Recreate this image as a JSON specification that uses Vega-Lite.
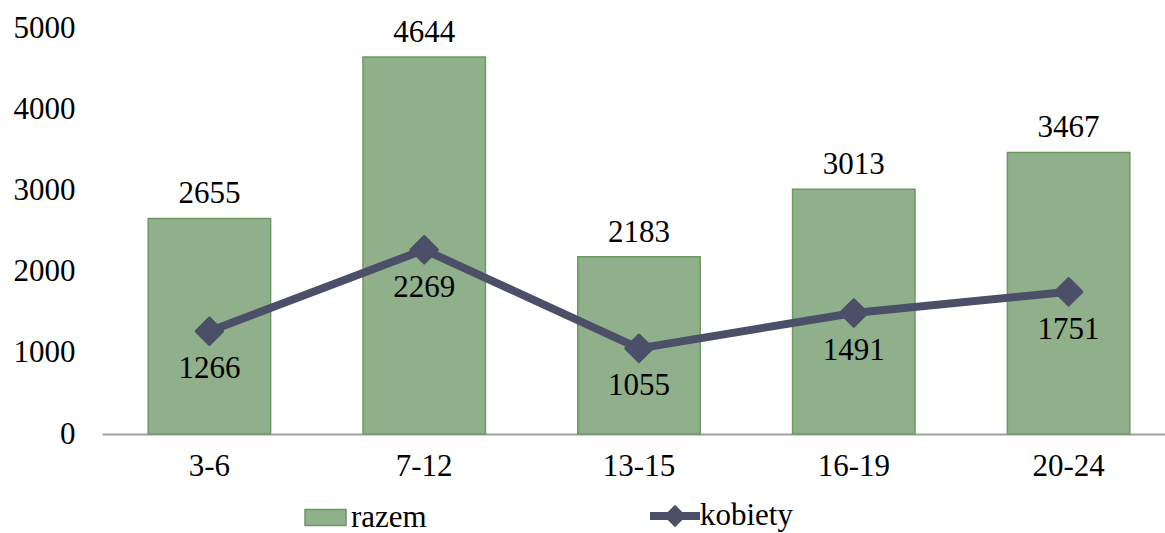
{
  "$schema": "https://vega.github.io/schema/vega-lite/v6.json",
  "autosize": {"type": "none"},
  "width": 1074,
  "height": 406,
  "padding": {"left": 102, "top": 28, "right": 0, "bottom": 99},
  "background": "white",
  "config": {
    "view": {"stroke": null},
    "font": "Liberation Serif",
    "axis": {"labelFont": "Liberation Serif", "labelFontSize": 31, "labelColor": "#000000"},
    "legend": {"labelFont": "Liberation Serif", "labelFontSize": 31, "labelColor": "#000000"}
  },
  "data": {
    "values": [
      {"grupa": "3-6", "razem": 2655, "kobiety": 1266},
      {"grupa": "7-12", "razem": 4644, "kobiety": 2269},
      {"grupa": "13-15", "razem": 2183, "kobiety": 1055},
      {"grupa": "16-19", "razem": 3013, "kobiety": 1491},
      {"grupa": "20-24", "razem": 3467, "kobiety": 1751}
    ]
  },
  "encoding": {
    "x": {
      "field": "grupa", "type": "nominal", "sort": null,
      "scale": {"paddingInner": 0.43, "paddingOuter": 0.215},
      "axis": {"title": null, "labelAngle": 0, "ticks": false, "domainColor": "#a0a0a0", "domainWidth": 2, "labelPadding": 17}
    }
  },
  "layer": [
    {
      "mark": {"type": "bar", "stroke": "#6a9a62", "strokeWidth": 1.5},
      "encoding": {
        "y": {
          "field": "razem", "type": "quantitative",
          "scale": {"domain": [0, 5000]},
          "axis": {"title": null, "grid": false, "domain": false, "ticks": false, "values": [0, 1000, 2000, 3000, 4000, 5000], "format": "d", "labelPadding": 27}
        },
        "fill": {
          "datum": "razem",
          "scale": {"domain": ["razem"], "range": ["#8fb08a"]},
          "legend": {
            "title": null, "orient": "none", "legendX": 202, "legendY": 468,
            "symbolType": "M-1,-0.39H1V0.39H-1Z", "symbolSize": 1681,
            "symbolStrokeColor": "#6a9a62", "symbolStrokeWidth": 1.5, "labelOffset": 4
          }
        }
      }
    },
    {
      "mark": {"type": "text", "baseline": "bottom", "dy": -8, "fontSize": 31, "color": "#000000"},
      "encoding": {
        "y": {"field": "razem", "type": "quantitative"},
        "text": {"field": "razem", "type": "quantitative", "format": "d"}
      }
    },
    {
      "mark": {"type": "line", "strokeWidth": 8},
      "encoding": {
        "y": {"field": "kobiety", "type": "quantitative"},
        "stroke": {
          "datum": "kobiety",
          "scale": {"domain": ["kobiety"], "range": ["#4b5068"]},
          "legend": {
            "title": null, "orient": "none", "legendX": 548, "legendY": 463,
            "symbolType": "M-1,-0.16H1V0.16H-1Z M0,-0.45L0.45,0L0,0.45L-0.45,0Z", "symbolSize": 2500,
            "symbolFillColor": "#4b5068", "symbolStrokeWidth": 0, "labelOffset": 0
          }
        }
      }
    },
    {
      "mark": {"type": "point", "shape": "diamond", "filled": true, "size": 700, "color": "#4b5068", "opacity": 1, "stroke": "#4b5068", "strokeWidth": 3, "strokeJoin": "round"},
      "encoding": {
        "y": {"field": "kobiety", "type": "quantitative"}
      }
    },
    {
      "mark": {"type": "text", "baseline": "middle", "dy": 38, "fontSize": 31, "color": "#000000"},
      "encoding": {
        "y": {"field": "kobiety", "type": "quantitative"},
        "text": {"field": "kobiety", "type": "quantitative", "format": "d"}
      }
    }
  ]
}
